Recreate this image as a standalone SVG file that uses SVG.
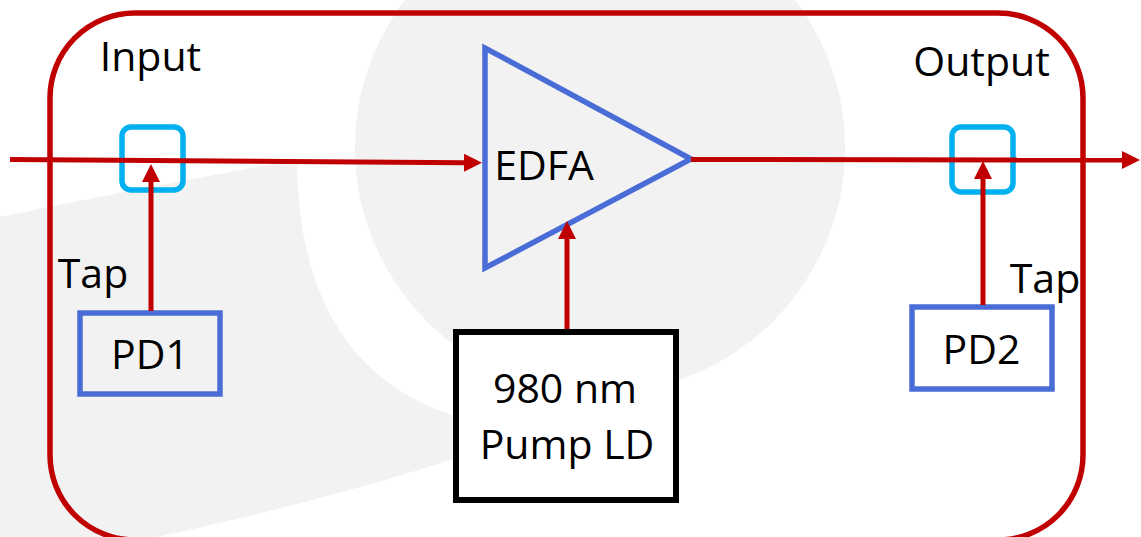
<svg xmlns="http://www.w3.org/2000/svg" width="1141" height="537" viewBox="0 0 1141 537">
  <defs>
    <style>
      .wm { fill: #f2f2f2; stroke: none; }
      .frame { fill: none; stroke: #c00000; stroke-width: 5.5; }
      .tap { fill: none; stroke: #00b0f0; stroke-width: 5.5; }
      .blue { fill: none; stroke: #4a6cd6; stroke-width: 5.5; }
      .pump { fill: #ffffff; stroke: #000000; stroke-width: 6; }
      .conn { fill: none; stroke: #c00000; stroke-width: 5; }
      .lbl { font-family: "Open Sans", "Noto Sans", "Liberation Sans", sans-serif; font-size: 41px; fill: #000000; text-anchor: middle; }
    </style>
    <marker id="arrow" markerUnits="userSpaceOnUse" markerWidth="19" markerHeight="19" refX="1" refY="9" orient="auto">
      <path d="M0,0 L18,9 L0,18 Z" fill="#c00000"/>
    </marker>
  </defs>

  <rect x="0" y="0" width="1141" height="537" fill="#ffffff"/>

  <g id="watermark">
    <circle class="wm" cx="600" cy="148" r="245"/>
    <path class="wm" d="M -10,219 Q 150,186 297,160 C 298,330 380,420 535,430 Q 380,490 120,545 L -10,545 Z"/>
  </g>

  <g id="frame">
    <rect class="frame" x="50" y="13" width="1033" height="527" rx="85" ry="85"/>
  </g>

  <g id="label-input"><text class="lbl" x="150.5" y="71">Input</text></g>
  <g id="label-output"><text class="lbl" x="981.5" y="76">Output</text></g>
  <g id="label-tap-left"><text class="lbl" x="93" y="288">Tap</text></g>
  <g id="label-tap-right"><text class="lbl" x="1045" y="293">Tap</text></g>

  <g id="tap-in">
    <rect class="tap" x="122" y="127" width="61" height="63" rx="9" ry="9"/>
  </g>
  <g id="tap-out">
    <rect class="tap" x="952" y="127" width="61" height="65" rx="9" ry="9"/>
  </g>

  <g id="edfa">
    <polygon class="blue" points="485,48 485,268 691,159"/>
    <text class="lbl" x="544" y="180">EDFA</text>
  </g>

  <g id="pd1">
    <rect class="blue" x="80" y="313" width="140" height="81"/>
    <text class="lbl" x="150" y="369">PD1</text>
  </g>

  <g id="pd2">
    <rect class="blue" x="912" y="307" width="140" height="82"/>
    <text class="lbl" x="981.5" y="364">PD2</text>
  </g>

  <g id="pump">
    <rect class="pump" x="456" y="332" width="220" height="168"/>
    <text class="lbl" x="565" y="403">980 nm</text>
    <text class="lbl" x="567" y="459">Pump LD</text>
  </g>

  <g id="connectors">
    <line class="conn" x1="10" y1="159.5" x2="465" y2="162.7" marker-end="url(#arrow)"/>
    <line class="conn" x1="691" y1="159.5" x2="1123" y2="160" marker-end="url(#arrow)"/>
    <line class="conn" x1="151" y1="311" x2="151" y2="181" marker-end="url(#arrow)"/>
    <line class="conn" x1="983" y1="305" x2="983" y2="178" marker-end="url(#arrow)"/>
    <line class="conn" x1="567" y1="329" x2="567" y2="238" marker-end="url(#arrow)"/>
  </g>
</svg>
